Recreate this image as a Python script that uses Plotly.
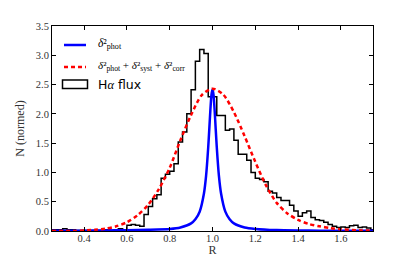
import numpy as np
import plotly.graph_objects as go

# ---- data ----
bin_start = 0.24
bin_width = 0.02
hist_vals = [
    0.02, 0.02, 0.02, 0.04, 0.02, 0.02, 0.01, 0.01, 0.01, 0.01,   # 0.24-0.42
    0.01, 0.01, 0.01, 0.02, 0.01, 0.02, 0.04, 0.02, 0.10, 0.11,   # 0.44-0.62
    0.10, 0.08, 0.28, 0.42, 0.55, 0.62, 0.90, 0.97, 1.02, 1.15,   # 0.64-0.82
    1.52, 1.69, 2.00, 2.41, 2.90, 3.10, 3.03, 2.29, 2.29, 1.97,   # 0.84-1.02
    1.97, 1.72, 1.74, 1.55, 1.31, 1.31, 1.21, 1.00, 0.90, 0.88,   # 1.04-1.22
    0.84, 0.68, 0.65, 0.57, 0.52, 0.52, 0.44, 0.34, 0.25, 0.31,   # 1.24-1.42
    0.34, 0.23, 0.19, 0.18, 0.15, 0.11, 0.08, 0.06, 0.07, 0.06,   # 1.44-1.62
    0.09, 0.10, 0.06, 0.07, 0.05, 0.02,                           # 1.64-1.74
]

phot_R = [0.25, 0.40, 0.50, 0.60, 0.70, 0.80, 0.85, 0.90, 0.92, 0.94, 0.96, 0.97,
          0.98, 0.985, 0.99, 0.995, 1.00, 1.005, 1.01, 1.015, 1.02, 1.03, 1.04,
          1.06, 1.08, 1.10, 1.15, 1.20, 1.30, 1.40, 1.50, 1.60, 1.75]
phot_N = [0.004, 0.006, 0.009, 0.014, 0.022, 0.035, 0.06, 0.13, 0.20, 0.33, 0.64, 0.94,
          1.43, 1.74, 2.06, 2.32, 2.42, 2.32, 2.06, 1.74, 1.43, 0.94, 0.64,
          0.33, 0.20, 0.13, 0.06, 0.035, 0.015, 0.009, 0.006, 0.004, 0.003]

tot_R = [0.25, 0.35, 0.45, 0.50, 0.55, 0.60, 0.65, 0.70, 0.75, 0.80, 0.85, 0.90,
         0.95, 1.00, 1.05, 1.10, 1.15, 1.20, 1.25, 1.30, 1.35, 1.40, 1.45, 1.50,
         1.55, 1.60, 1.70, 1.75]
tot_N = [0.00, 0.00, 0.02, 0.04, 0.08, 0.15, 0.27, 0.45, 0.72, 1.08, 1.55, 1.98,
         2.32, 2.43, 2.33, 2.03, 1.62, 1.18, 0.78, 0.48, 0.30, 0.19, 0.12, 0.08,
         0.05, 0.03, 0.01, 0.01]

x_ticks = [0.4, 0.6, 0.8, 1.0, 1.2, 1.4, 1.6]
y_ticks = [0.0, 0.5, 1.0, 1.5, 2.0, 2.5, 3.0, 3.5]

legend_labels = [
    "<i>δ</i>²<sub>phot</sub>",
    "<i>δ</i>²<sub>phot</sub> + <i>δ</i>²<sub>syst</sub> + <i>δ</i>²<sub>corr</sub>",
    "<span style='font-family:DejaVu Sans'>H</span><i>α</i>"
    "<span style='font-family:DejaVu Sans'> flux</span>",
]

# ---- build step outline ----
edges = [bin_start + i * bin_width for i in range(len(hist_vals) + 1)]
hx = [edges[0]] + edges[:-1] + [edges[-1], edges[-1]]
hy = [0] + hist_vals + [hist_vals[-1], 0]

serif = "Liberation Serif, DejaVu Serif, serif"
BLUE = "#0000ff"
RED = "#ff0000"

fig = go.Figure()
fig.add_trace(go.Scatter(x=hx, y=hy, mode="lines", line=dict(color="black", width=1.5, shape="hv"),
                         showlegend=False, hoverinfo="skip"))
fig.add_trace(go.Scatter(x=phot_R, y=phot_N, mode="lines",
                         line=dict(color=BLUE, width=2.5, shape="spline", smoothing=0.6),
                         showlegend=False))
fig.add_trace(go.Scatter(x=tot_R, y=tot_N, mode="lines",
                         line=dict(color=RED, width=2.5, dash="4px,3px", shape="spline", smoothing=0.8),
                         showlegend=False))

axis_common = dict(showline=True, linecolor="black", linewidth=1, mirror="ticks", ticks="inside",
                   ticklen=4, tickcolor="black", showgrid=False, zeroline=False, automargin=False,
                   tickfont=dict(family=serif, size=10.5, color="#333333"))
fig.update_xaxes(range=[0.25, 1.75], tickvals=x_ticks, ticktext=[f"{v:.1f}" for v in x_ticks],
                 ticklabelstandoff=-3,
                 title=dict(text="R", font=dict(family=serif, size=12, color="#333333"), standoff=0), **axis_common)
fig.update_yaxes(range=[0, 3.5], tickvals=y_ticks, ticktext=[f"{v:.1f}" for v in y_ticks],
                 title=dict(text="N (normed)", font=dict(family=serif, size=12, color="#333333"), standoff=8), **axis_common)

# ---- manual legend (paper coords) ----
W, H = 415, 257
L, R_, T, B = 52, 42, 26, 26
pw, ph = W - L - R_, H - T - B
def px(x):
    return (x - L) / pw
def py(y):
    return (H - B - y) / ph

fig.add_shape(type="line", xref="paper", yref="paper", x0=px(64), x1=px(86), y0=py(45), y1=py(45),
              line=dict(color=BLUE, width=2.5))
fig.add_shape(type="line", xref="paper", yref="paper", x0=px(64), x1=px(86), y0=py(67), y1=py(67),
              line=dict(color=RED, width=2.5, dash="4px,3px"))
fig.add_shape(type="rect", xref="paper", yref="paper", x0=px(62.5), x1=px(87.5), y0=py(88.5), y1=py(80),
              line=dict(color="black", width=1.5), fillcolor="rgba(0,0,0,0)")
for lab, yy, sz in zip(legend_labels, [44, 66, 84], [11.5, 11, 12.5]):
    fig.add_annotation(xref="paper", yref="paper", x=px(96), y=py(yy), xanchor="left", yanchor="middle",
                       text=lab, showarrow=False, font=dict(family=serif, size=sz, color="black"))

fig.update_layout(
    width=W, height=H,
    margin=dict(l=L, r=R_, t=T, b=B),
    paper_bgcolor="white", plot_bgcolor="white",
    showlegend=False,
)

fig.write_html("out.html", config={"displayModeBar": False},
               post_script="document.body.style.margin='0px';document.body.style.overflow='hidden';")
